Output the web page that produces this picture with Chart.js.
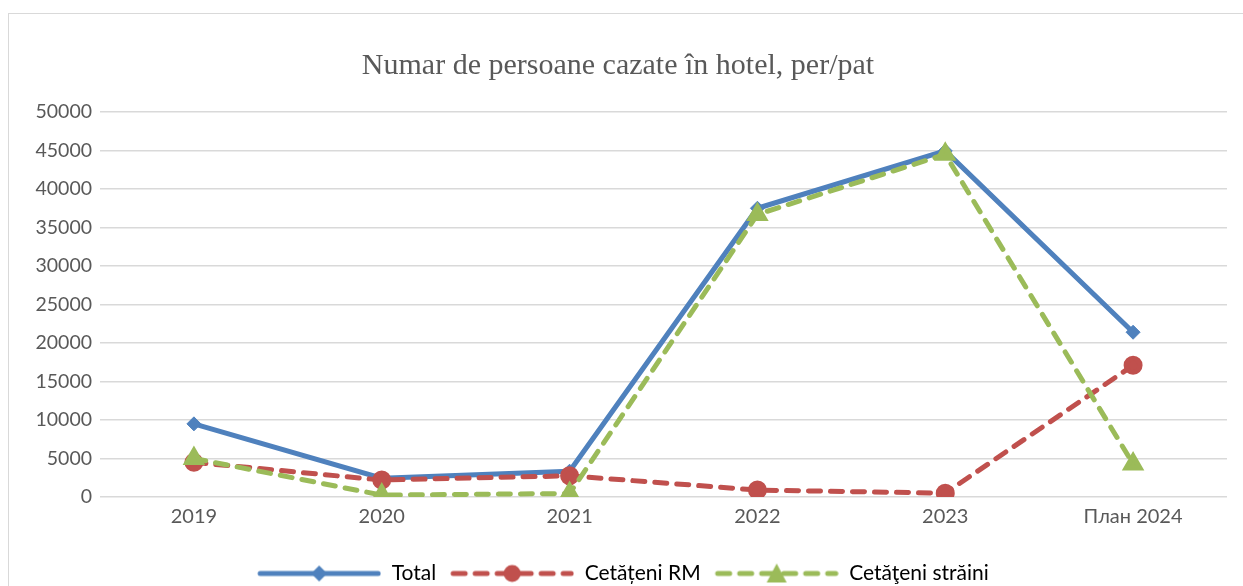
<!DOCTYPE html>
<html>
<head>
<meta charset="utf-8">
<script src="https://cdn.jsdelivr.net/npm/chart.js@4.4.1/dist/chart.umd.min.js"></script>
<style>
  html, body { margin: 0; padding: 0; background: #fff; }
  #frame { position: absolute; left: 8px; top: 13px; width: 1240px; height: 580px; border: 1.5px solid #d9d9d9; box-sizing: border-box; }
  #wrap { position: absolute; left: 9px; top: 14px; width: 1234px; height: 572px; }
</style>
</head>
<body>
<div id="frame"></div>
<div id="wrap"><canvas id="c"></canvas></div>
<script>
const categories = ['2019', '2020', '2021', '2022', '2023', 'План 2024'];
const totalValues = [9500, 2450, 3350, 37500, 44950, 21400];
const rmValues = [4500, 2200, 2750, 900, 500, 17100];
const strainiValues = [5000, 250, 450, 36700, 44500, 4300];
const seriesNames = ['Total', 'Cetățeni RM', 'Cetăţeni străini'];
const yTicks = [0, 5000, 10000, 15000, 20000, 25000, 30000, 35000, 40000, 45000, 50000];

const BLUE = '#4f81bd', RED = '#c0504d', GREEN = '#9bbb59';
const FONT = 'Lato, "Open Sans", sans-serif';
const LEG_W = 134, LEG_GAP = 10;

function legendImage(color, dash, marker) {
  const cv = document.createElement('canvas');
  cv.width = LEG_W; cv.height = 22;
  const g = cv.getContext('2d');
  const x0 = LEG_GAP + 3, x1 = LEG_W - 3, cx = (x0 + x1) / 2;
  g.strokeStyle = color; g.lineWidth = 5; g.lineCap = 'round';
  g.setLineDash(dash || []);
  g.beginPath(); g.moveTo(x0, 11); g.lineTo(x1, 11); g.stroke();
  g.setLineDash([]);
  g.fillStyle = color;
  g.beginPath();
  if (marker === 'diamond') {
    g.moveTo(cx, 3); g.lineTo(cx + 8, 11); g.lineTo(cx, 19); g.lineTo(cx - 8, 11); g.closePath();
  } else if (marker === 'circle') {
    g.arc(cx, 11, 8.5, 0, Math.PI * 2);
  } else {
    g.moveTo(cx, 1); g.lineTo(cx + 10, 20); g.lineTo(cx - 10, 20); g.closePath();
  }
  g.fill();
  return cv;
}

const legendImgs = [
  legendImage(BLUE, null, 'diamond'),
  legendImage(RED, [12, 10], 'circle'),
  legendImage(GREEN, [12, 10], 'triangle')
];

new Chart(document.getElementById('c'), {
  type: 'line',
  data: {
    labels: categories,
    datasets: [
      { label: seriesNames[0], data: totalValues, borderColor: BLUE, backgroundColor: BLUE,
        borderWidth: 5, pointStyle: 'rectRot', pointRadius: 7, pointBorderWidth: 1,
        pointBackgroundColor: BLUE, pointBorderColor: BLUE, tension: 0, order: 3 },
      { label: seriesNames[1], data: rmValues, borderColor: RED, backgroundColor: RED,
        borderWidth: 5, borderDash: [12, 10], borderCapStyle: 'round', pointStyle: 'circle', pointRadius: 7,
        pointBackgroundColor: RED, pointBorderColor: RED, tension: 0, order: 2 },
      { label: seriesNames[2], data: strainiValues, borderColor: GREEN, backgroundColor: GREEN,
        borderWidth: 5, borderDash: [12, 10], borderCapStyle: 'round', pointStyle: 'triangle', pointRadius: 8,
        pointBackgroundColor: GREEN, pointBorderColor: GREEN, tension: 0, order: 1 }
    ]
  },
  options: {
    responsive: true,
    maintainAspectRatio: false,
    animation: false,
    layout: { padding: { left: 0, right: 16, top: 0, bottom: -8 } },
    plugins: {
      title: {
        display: true,
        text: 'Numar de persoane cazate în hotel, per/pat',
        color: '#595959',
        font: { family: '"Liberation Serif", "Times New Roman", serif', size: 30, weight: 'normal' },
        padding: { top: 34, bottom: 28 }
      },
      legend: {
        position: 'bottom',
        labels: {
          usePointStyle: true,
          pointStyleWidth: LEG_W,
          color: '#595959',
          font: { family: FONT, size: 21 },
          padding: 4,
          sort: (a, b) => a.datasetIndex - b.datasetIndex,
          generateLabels: (chart) => chart.data.datasets.map((ds, i) => ({
            text: ds.label, pointStyle: legendImgs[i], fillStyle: ds.borderColor,
            strokeStyle: ds.borderColor, lineWidth: 0, hidden: false, datasetIndex: i
          }))
        }
      },
      tooltip: { enabled: false }
    },
    scales: {
      x: {
        offset: true,
        grid: { display: false },
        border: { display: false },
        afterFit: (s) => { s.height = 62; },
        ticks: { color: '#595959', font: { family: FONT, size: 20 }, padding: 0 }
      },
      y: {
        min: 0, max: 50000,
        afterBuildTicks: (s) => { s.ticks = yTicks.map(v => ({ value: v })); },
        afterFit: (s) => { s.width = 91; },
        grid: { color: '#d9d9d9', lineWidth: 1.5, drawTicks: false },
        border: { display: false },
        ticks: { color: '#595959', font: { family: FONT, size: 19.5 }, padding: 8, callback: (v) => String(v) }
      }
    }
  }
});
</script>
</body>
</html>
